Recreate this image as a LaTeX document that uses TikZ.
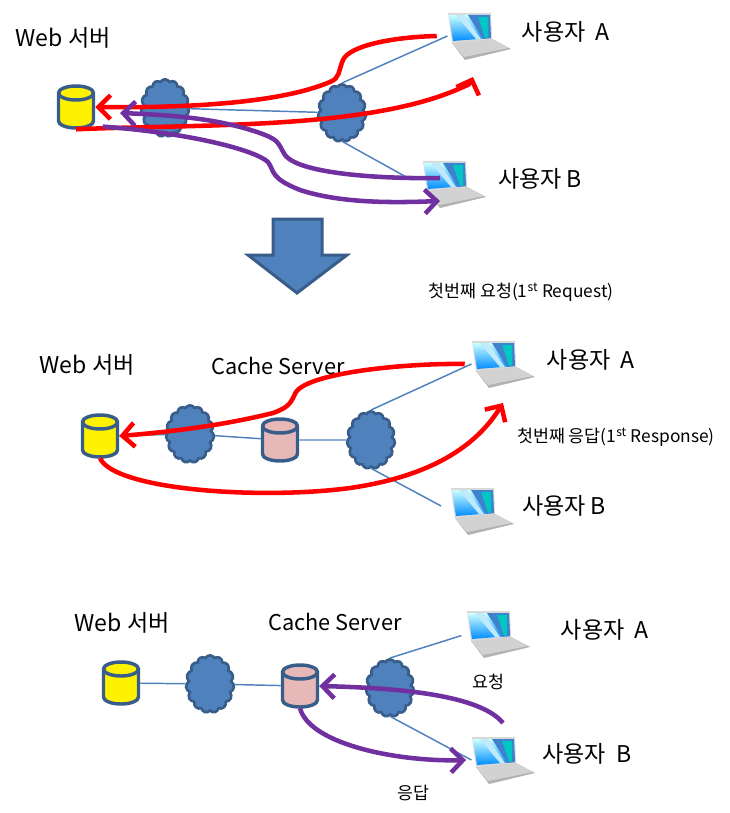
\documentclass[tikz,border=0pt]{standalone}
\usepackage{fontspec}
\setmainfont{Noto Sans CJK KR}
\usetikzlibrary{shapes,arrows.meta}

\definecolor{cloudblue}{HTML}{4F81BD}
\definecolor{edgeblue}{HTML}{385D8A}
\definecolor{dbpink}{HTML}{E6B9B8}
\definecolor{reqpurple}{HTML}{7030A0}

\tikzset{
    dbbox/.style={inner sep=0pt, minimum width=28.5pt, minimum height=33pt},
    dbline/.style={draw=edgeblue, line width=2.6pt},
    net/.style={cloud, cloud puffs=15, cloud puff arc=125, aspect=0.85, draw=edgeblue, line width=2pt,
        fill=cloudblue, inner sep=0pt, minimum width=36pt, minimum height=43pt},
    link/.style={draw=cloudblue, line width=1.1pt},
    redline/.style={draw=red, line width=3.4pt, -{Straight Barb[length=9pt,width=18pt]}},
    purpleline/.style={draw=reqpurple, line width=3.4pt, -{Straight Barb[length=9pt,width=18pt]}},
    biglabel/.style={font=\fontsize{17.3pt}{18pt}\selectfont, inner sep=0pt},
    cachelabel/.style={font=\fontsize{16.3pt}{18pt}\selectfont, inner sep=0pt},
    smalllabel/.style={font=\fontsize{13pt}{15pt}\selectfont, inner sep=0pt},
    laptopbox/.style={minimum width=47pt, minimum height=35pt, inner sep=0pt},
}

\begin{document}
\begin{tikzpicture}[x=0.75pt,y=-0.75pt]
    \useasboundingbox (0,0) rectangle (730,813);

    %---------------------------------------------------------------%
    \foreach \name/\x/\y in {lapAa/448/13,lapBa/423/161,lapAb/472/341,lapBb/451/488,lapAc/467/611,lapBc/472/737}{% every laptop
        \begin{scope}[shift={(\x,\y)}]
            \node [laptopbox] (\name) at (31,23) {};
            \fill [gray!60!white] (4,30) -- (44,26) -- (63,36) -- (17,47) -- cycle;
            \fill [gray!35!white] (4,30) -- (44,26) -- (61,35) -- (16,44) -- cycle;
            \fill [gray!30!white] (0,0) -- (43,0) -- (44,26) -- (4,30) -- cycle;
            \shade [top color=cyan!20!white, bottom color=blue!45!cyan] (1,2) -- (42,2) -- (43,25) -- (5,28) -- cycle;
            \fill [cyan!50!blue!80!white] (20,2) -- (42,2) -- (43,25) -- (35,26) -- cycle;
            \fill [teal!45!cyan] (30,4) -- (40,4) -- (40,24) -- (37,25) -- cycle;
            \fill [white!75!cyan] (8,2) -- (16,2) -- (33,26) -- (28,26) -- cycle;
        \end{scope}
    }

    %---------------------------------------------------------------%
    \foreach \name/\x/\y/\col in {dba/76/107/yellow,dbb/100/436/yellow,cacheb/280/440/dbpink,dbc/121/683/yellow,cachec/300/686/dbpink}{% every database
        \node [dbbox] (\name) at (\x,\y) {};
        \begin{scope}[shift={(\x,\y)}]
            \path [dbline, fill=\col] (-17.5,-14) -- (-17.5,14) arc [start angle=180, end angle=0, x radius=17.5, y radius=7]
                -- (17.5,-14) arc [start angle=0, end angle=-180, x radius=17.5, y radius=7] -- cycle;
            \draw [dbline] (-17.5,-14) arc [start angle=180, end angle=0, x radius=17.5, y radius=7];
        \end{scope}
    }

    %---------------------------------------------------------------%
    \node [biglabel] (webLa) at (63,38)  {Web 서버};
    \node [biglabel] (userAa) at (566,32) {사용자\ \ A};
    \node [biglabel] (userBa) at (540,179) {사용자 B};
    \node [net] (neta) at (165,108) {};
    \node [net] (netb) at (342,113) {};
    \coordinate (endBa) at (408,178);
    \coordinate (tipAa) at (473,77);
    \coordinate (tipBa) at (440,201);
    \draw [link] (neta) -- (netb);
    \draw [link] (netb.north) -- (lapAa.west);
    \draw [link] (netb.south) -- (endBa);
    \draw [redline] ([xshift=-8pt]lapAa.west) .. controls (395,37) and (350,45) .. (343,60)
        .. controls (338,72) and (340,78) .. (330,82) .. controls (280,103) and (190,108) .. (dba.east);
    \draw [redline] (dba.south) .. controls (200,124) and (370,130) .. (463,87)
        .. controls (467,85) and (470,85) .. (tipAa);
    \draw [purpleline] ([xshift=24pt]endBa) .. controls (390,179) and (300,175) .. (285,155)
        .. controls (277,142) and (280,140) .. (257,132) .. controls (215,118) and (170,115) .. (120,113);
    \draw [purpleline] ([xshift=20pt,yshift=2pt]dba.south) .. controls (190,133) and (255,150) .. (268,162)
        .. controls (275,172) and (270,178) .. (300,190) .. controls (340,203) and (390,203) .. (tipBa);

    %---------------------------------------------------------------%
    \draw [draw=edgeblue, fill=cloudblue, line width=2.25pt] (273,219) -- (322,219) -- (322,255) -- (347,255)
        -- (297,293) -- (248,255) -- (273,255) -- cycle;% big arrow down

    %---------------------------------------------------------------%
    \node [smalllabel] (firstreq) at (521,292) {첫번째 요청(1\textsuperscript{st} Request)};
    \node [smalllabel] (firstres) at (616,437) {첫번째 응답(1\textsuperscript{st} Response)};
    \node [biglabel] (webLb) at (87,365) {Web 서버};
    \node [cachelabel] (cacheLb) at (278,366) {Cache Server};
    \node [biglabel] (userAb) at (591,360) {사용자\ \ A};
    \node [biglabel] (userBb) at (564,506) {사용자 B};
    \node [net] (netc) at (190,434) {};
    \node [net] (netd) at (371,440) {};
    \coordinate (tipAb) at (503,403);
    \draw [link] (dbb) -- (netc);
    \draw [link] (netc) -- (cacheb);
    \draw [link] (cacheb) -- (netd);
    \draw [link] (netd.north) -- (lapAb.west);
    \draw [link, shorten >=8pt] (netd.south) -- (lapBb.west);
    \draw [redline] ([xshift=-5pt]lapAb.west) .. controls (410,363) and (310,372) .. (296,392)
        .. controls (291,402) and (290,407) .. (273,413) .. controls (225,425) and (170,432) .. (dbb.east);
    \draw [redline] (dbb.south) .. controls (115,490) and (260,500) .. (350,488)
        .. controls (440,475) and (480,440) .. (tipAb);

    %---------------------------------------------------------------%
    \node [biglabel] (webLc) at (122,623) {Web 서버};
    \node [cachelabel] (cacheLc) at (335,622) {Cache Server};
    \node [biglabel] (userAc) at (605,630) {사용자\ \ A};
    \node [biglabel] (userBc) at (587,754) {사용자\ \ B};
    \node [smalllabel] (reqL) at (488,682) {요청};
    \node [smalllabel] (resL) at (413,793) {응답};
    \node [net] (nete) at (210,684) {};
    \node [net] (netf) at (390,688) {};
    \coordinate (startBc) at (503,723);
    \draw [link] (dbc) -- (nete);
    \draw [link] (nete) -- (cachec);
    \draw [link] (cachec) -- (netf);
    \draw [link, shorten >=4pt] (netf.north) -- (lapAc.west);
    \draw [link] (netf.south) -- (lapBc.west);
    \draw [purpleline] (startBc) .. controls (480,695) and (400,688) .. (cachec.east);
    \draw [purpleline] (cachec.south) .. controls (310,745) and (400,762) .. ([xshift=-4pt]lapBc.west);
    %---------------------------------------------------------------%

\end{tikzpicture}
\end{document}
